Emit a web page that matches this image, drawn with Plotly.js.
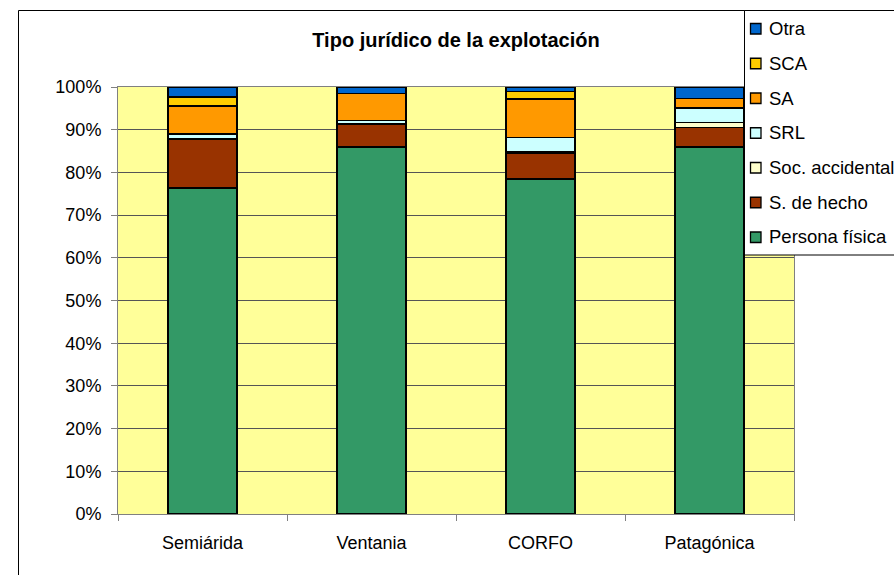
<!DOCTYPE html>
<html><head><meta charset="utf-8">
<script src="https://cdn.plot.ly/plotly-3.0.1.min.js"></script>
<style>html,body{margin:0;padding:0;background:#fff;} #chart{width:894px;height:575px;}</style>
</head><body><div id="chart"></div>
<script>
// ---- data ----
const categories = ['Semiárida', 'Ventania', 'CORFO', 'Patagónica'];
const seriesNames = ['Persona física', 'S. de hecho', 'Soc. accidental', 'SRL', 'SA', 'SCA', 'Otra'];
const personaFisica = [76.3, 86.0, 78.4, 86.0];
const sDeHecho      = [11.5, 5.3, 6.0, 4.5];
const socAccidental = [0.0, 0.0, 0.4, 1.2];
const srl           = [1.2, 0.8, 3.4, 3.4];
const sa            = [6.5, 6.4, 9.0, 2.2];
const sca           = [2.2, 0.0, 1.7, 0.0];
const otra          = [2.3, 1.5, 1.1, 2.7];
const yTickVals = [0, 10, 20, 30, 40, 50, 60, 70, 80, 90, 100];
const yTickText = ['0%', '10%', '20%', '30%', '40%', '50%', '60%', '70%', '80%', '90%', '100%'];
const seriesColors = ['#339966', '#993300', '#FFFFCC', '#CCFFFF', '#FF9900', '#FFCC00', '#0066CC'];
const titleText = 'Tipo jurídico de la explotación';

// ---- build ----
const seriesValues = [personaFisica, sDeHecho, socAccidental, srl, sa, sca, otra];
const FONT = 'Liberation Sans, Arial, sans-serif';
const W = 894, H = 575;
const PL = 118, PR = 794, PT = 87, PB = 514;
const px = x => (x - PL) / (PR - PL);
const py = y => (PB - y) / (PB - PT);

const traces = seriesNames.map((n, i) => ({
  type: 'bar', name: n, x: categories, y: seriesValues[i], width: 0.41,
  marker: {color: seriesColors[i], line: {color: '#000', width: 1.5}},
  hoverinfo: 'skip', showlegend: false
}));

const shapes = [
  // chart frame
  {type: 'rect', xref: 'paper', yref: 'paper', x0: px(18.5), x1: px(905), y0: py(585), y1: py(10.5),
   line: {color: '#000', width: 1}, fillcolor: 'rgba(0,0,0,0)'},
  // legend box
  {type: 'rect', xref: 'paper', yref: 'paper', x0: px(744.5), x1: px(905), y0: py(255), y1: py(10.5),
   line: {color: '#000', width: 1}, fillcolor: '#fff'}
];
const annotations = [];
const order = seriesNames.map((_, i) => i).reverse();
order.forEach((si, k) => {
  const cy = 28.5 + k * 34.75;
  shapes.push({type: 'rect', xref: 'paper', yref: 'paper', x0: px(750.5), x1: px(761), y0: py(cy + 5.5), y1: py(cy - 5),
    line: {color: '#000', width: 1.3}, fillcolor: seriesColors[si]});
  annotations.push({xref: 'paper', yref: 'paper', x: px(767), y: py(cy), xanchor: 'left', yanchor: 'middle',
    text: seriesNames[si], showarrow: false, font: {family: FONT, size: 18.5, color: '#000'}});
});

const layout = {
  width: W, height: H,
  margin: {l: PL, r: W - PR, t: PT, b: H - PB, autoexpand: false},
  paper_bgcolor: '#fff', plot_bgcolor: '#FFFF99',
  barmode: 'stack',
  showlegend: false,
  font: {family: FONT, size: 18, color: '#000'},
  title: {text: titleText, font: {family: FONT, size: 20, weight: 700, color: '#000'},
          x: 0.5, xref: 'paper', xanchor: 'center', y: 1 - 40 / H, yref: 'container', yanchor: 'middle'},
  xaxis: {type: 'category', tickson: 'boundaries', ticks: 'outside', ticklen: 6, tickcolor: '#808080',
          showline: true, linecolor: '#808080', mirror: true, showgrid: false,
          tickfont: {family: FONT, size: 18, color: '#000'}, ticklabelstandoff: 12},
  yaxis: {range: [0, 100], tickvals: yTickVals, ticktext: yTickText, ticks: 'outside', ticklen: 6,
          tickcolor: '#808080', showline: true, linecolor: '#808080', mirror: true,
          showgrid: true, gridcolor: '#555', gridwidth: 1, zeroline: false,
          tickfont: {family: FONT, size: 18, color: '#000'}, ticklabelstandoff: 6},
  shapes: shapes,
  annotations: annotations
};
Plotly.newPlot('chart', traces, layout, {staticPlot: true, displayModeBar: false});
</script>
</body></html>
